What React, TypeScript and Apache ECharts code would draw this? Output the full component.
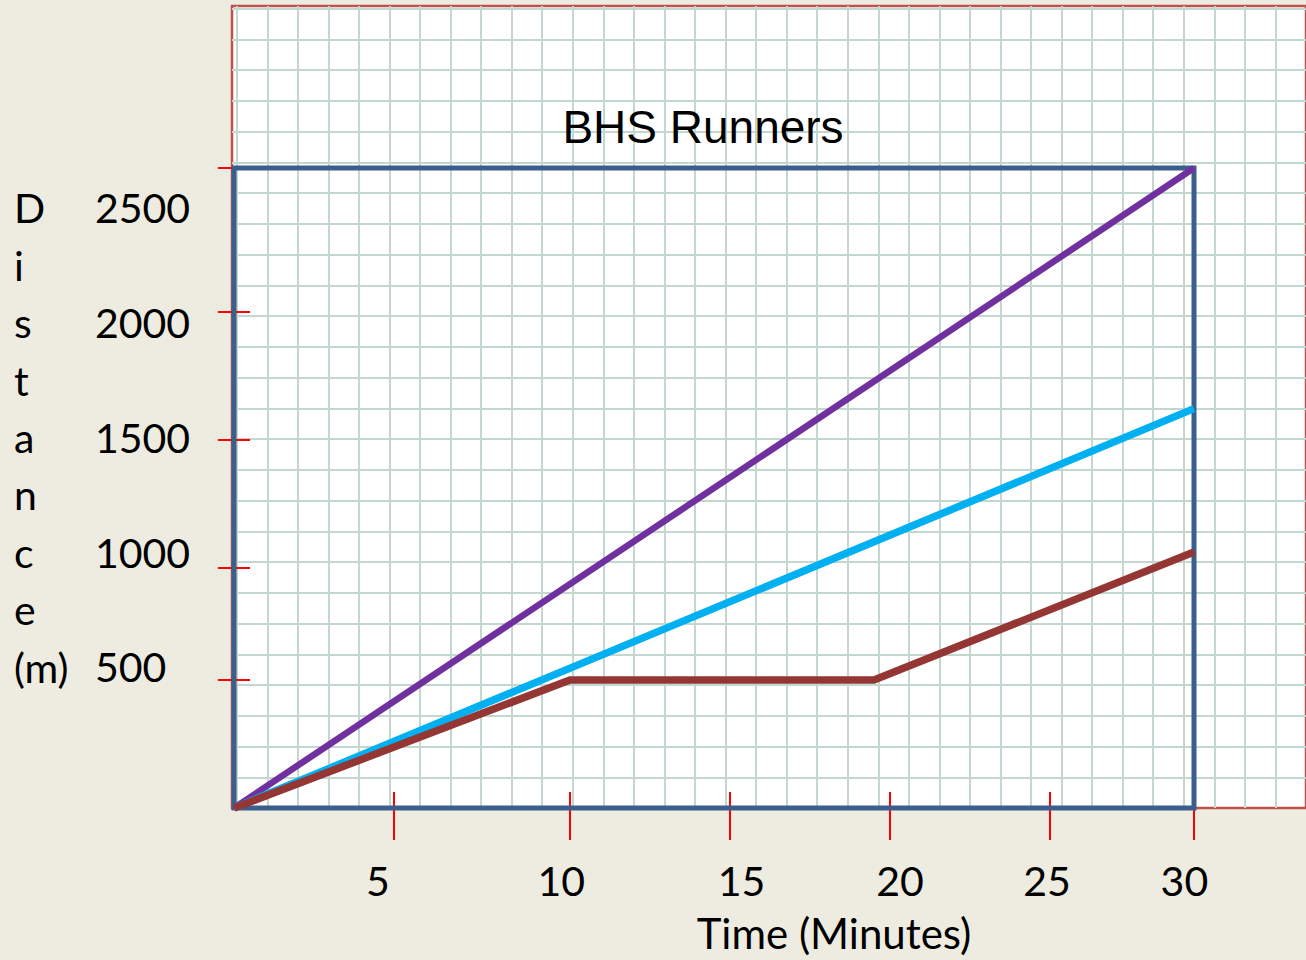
import React, { useEffect, useRef } from "react";
import * as echarts from "echarts";

// ---- data ----
const purpleTime = [0, 30];
const purpleDist = [0, 2500];
const cyanTime = [0, 30];
const cyanDist = [0, 1560];
const brownTime = [0, 10.5, 20, 30];
const brownDist = [0, 500, 500, 1000];

// tick marks and tick labels (in axis units, as drawn in the picture)
const xTickAt = [5, 10.5, 15.5, 20.5, 25.5, 30];
const xLabelAt = [4.5, 10.23, 15.86, 20.81, 25.41, 29.7];
const xLabels = ["5", "10", "15", "20", "25", "30"];
const yTickAt = [500, 937.5, 1437.5, 1937.5, 2500];
const yLabelAt = [551, 1000, 1449, 1898, 2344];
const yLabels = ["500", "1000", "1500", "2000", "2500"];

const title = "BHS Runners";
const xName = "Time (Minutes)";
const yNameLetters = ["D", "i", "s", "t", "a", "n", "c", "e", "(m)"];

const pair = (xs: number[], ys: number[]) => xs.map((x, i) => [x, ys[i]]);
const nearest = (arr: number[], v: number) => {
  let best = 0;
  for (let i = 1; i < arr.length; i++) if (Math.abs(arr[i] - v) < Math.abs(arr[best] - v)) best = i;
  return best;
};

const TICK_RED = "#FF0000";
const PAPER_LINE = "#C3D7CF";

export default function App() {
  const ref = useRef<HTMLDivElement>(null);
  useEffect(() => {
    if (!ref.current) return;
    const chart = echarts.init(ref.current, null, { renderer: "svg" });
    const tickStyle = { color: TICK_RED, width: 2 };
    const option: any = {
      animation: false,
      backgroundColor: "#EEECE1",
      grid: [
        { // main plot area
          left: 234, top: 168, width: 960, height: 640,
          show: true, borderColor: "#3B5E8C", borderWidth: 5, backgroundColor: "transparent", z: 2,
        },
        { // graph paper
          left: 232, top: 6, width: 1081, height: 802,
          show: true, borderColor: "#C0504D", borderWidth: 2.5, backgroundColor: "#FFFFFF", z: 0,
        },
      ],
      xAxis: [
        {
          gridIndex: 0, type: "value", position: "bottom", offset: 0, min: 0, max: 30, z: 1,
          axisLine: { show: false }, splitLine: { show: false },
          axisTick: { show: true, inside: true, length: 16, customValues: xTickAt, lineStyle: tickStyle },
          axisLabel: {
            customValues: xLabelAt, margin: 52, fontFamily: "Lato", fontSize: 41, color: "#000",
            formatter: (v: number) => xLabels[nearest(xLabelAt, v)],
          },
        },
        {
          gridIndex: 0, type: "value", position: "bottom", offset: 0, min: 0, max: 30, z: 1,
          axisLine: { show: false }, splitLine: { show: false }, axisLabel: { show: false },
          axisTick: { show: true, inside: false, length: 32, customValues: xTickAt, lineStyle: tickStyle },
        },
        {
          gridIndex: 1, type: "value", min: 0, max: 1081 / 30.75, interval: 1, inverse: true, z: 1,
          axisLine: { show: false }, axisTick: { show: false }, axisLabel: { show: false },
          splitLine: { show: true, showMinLine: false, showMaxLine: false, lineStyle: { color: PAPER_LINE, width: 2 } },
        },
      ],
      yAxis: [
        {
          gridIndex: 0, type: "value", position: "left", offset: 0, min: 0, max: 2500, z: 1,
          axisLine: { show: false }, splitLine: { show: false },
          axisTick: { show: true, inside: true, length: 16, customValues: yTickAt, lineStyle: tickStyle },
          axisLabel: {
            customValues: yLabelAt, margin: 139, align: "left", fontFamily: "Lato", fontSize: 41, color: "#000",
            formatter: (v: number) => yLabels[nearest(yLabelAt, v)],
          },
        },
        {
          gridIndex: 0, type: "value", position: "left", offset: 0, min: 0, max: 2500, z: 1,
          axisLine: { show: false }, splitLine: { show: false }, axisLabel: { show: false },
          axisTick: { show: true, inside: false, length: 16, customValues: yTickAt, lineStyle: tickStyle },
        },
        {
          gridIndex: 1, type: "value", min: 0, max: 802 / 30.75, interval: 1, z: 1,
          axisLine: { show: false }, axisTick: { show: false }, axisLabel: { show: false },
          splitLine: { show: true, showMinLine: false, showMaxLine: false, lineStyle: { color: PAPER_LINE, width: 2 } },
        },
      ],
      series: [
        {
          type: "line", xAxisIndex: 0, yAxisIndex: 0, data: pair(purpleTime, purpleDist),
          showSymbol: false, clip: false, z: 3,
          lineStyle: { color: "#7030A0", width: 6.5, cap: "butt" },
        },
        {
          type: "line", xAxisIndex: 0, yAxisIndex: 0, data: pair(cyanTime, cyanDist),
          showSymbol: false, clip: false, z: 3,
          lineStyle: { color: "#00B0F0", width: 7.5, cap: "butt" },
        },
        {
          type: "line", xAxisIndex: 0, yAxisIndex: 0, data: pair(brownTime, brownDist),
          showSymbol: false, clip: false, z: 3,
          lineStyle: { color: "#943634", width: 7.5, cap: "butt", join: "miter" },
        },
      ],
      graphic: [
        {
          type: "text", x: 703, y: 127, z: 10,
          style: {
            text: title, font: '46px "Liberation Sans"', fill: "#000",
            textAlign: "center", textVerticalAlign: "middle", align: "center", verticalAlign: "middle",
          },
        },
        {
          type: "text", x: 834, y: 933, z: 10,
          style: {
            text: xName, font: "42px Lato", fill: "#000",
            textAlign: "center", textVerticalAlign: "middle", align: "center", verticalAlign: "middle",
          },
        },
        {
          type: "text", x: 14, y: 208 - 28.7, z: 10,
          style: {
            text: yNameLetters.join("\n"), font: "41px Lato", lineHeight: 57.4, fill: "#000",
            textAlign: "left", textVerticalAlign: "top", align: "left", verticalAlign: "top",
          },
        },
      ],
    };
    chart.setOption(option);
    return () => chart.dispose();
  }, []);
  return <div ref={ref} style={{ position: "absolute", left: 0, top: 0, width: 1306, height: 960 }} />;
}
